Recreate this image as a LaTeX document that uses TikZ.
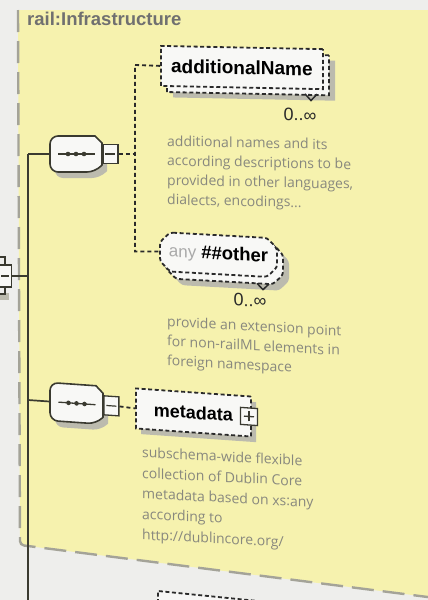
\documentclass[tikz,border=0pt]{standalone}
\usepackage{fontspec}
\setmainfont{Liberation Sans}
\newfontfamily\descfont{Open Sans}
\definecolor{bgc}{HTML}{EEEEEC}
\definecolor{yelc}{HTML}{F6F2AE}
\definecolor{borderc}{HTML}{A4A398}
\definecolor{shadowc}{HTML}{BCBBAE}
\definecolor{treec}{HTML}{3A3A30}
\definecolor{dotc}{HTML}{2A2A2A}
\definecolor{boxc}{HTML}{F8F8F6}
\definecolor{descc}{HTML}{88887E}
\definecolor{titlec}{HTML}{707070}
\definecolor{anyc}{HTML}{A9A9A9}
\tikzset{
  sk/.style n args={3}{shift={(#1,#2)},yslant=-#3,shift={(-#1,-#2)}},
  dotbox/.style={draw=dotc,line width=1.8pt,dash pattern=on 4pt off 2.6pt,fill=boxc,inner sep=0pt},
  shadowbox/.style={fill=shadowc,draw=none,inner sep=0pt},
  conn/.style={draw=dotc,line width=1.8pt,dash pattern=on 4pt off 3pt},
  treeline/.style={draw=treec,line width=1.7pt},
  frameline/.style={draw=borderc,line width=2.4pt,dash pattern=on 22pt off 9pt},
  desc/.style={font=\descfont\fontsize{14}{19.5}\selectfont,text=descc,inner sep=0pt,anchor=base west,align=left},
  elname/.style={font=\bfseries\fontsize{18}{18}\selectfont,text=black},
  occ/.style={font=\fontsize{18}{18}\selectfont,text=dotc,inner sep=0pt},
  minusbox/.style={draw=treec,line width=1.3pt,fill=boxc,minimum width=15pt,minimum height=19pt,inner sep=0pt},
  plusbox/.style={draw=treec,line width=1.3pt,fill=boxc,minimum width=17pt,minimum height=17pt,inner sep=0pt},
  compbody/.style={draw=treec,line width=1.6pt,fill=boxc},
  chev/.style={draw=dotc,line width=1.5pt},
}
\begin{document}
\begin{tikzpicture}[x=1pt,y=-1pt]
\useasboundingbox (0,0) rectangle (428,600);
\fill[bgc] (0,0) rectangle (428,600);
\fill[yelc] (18,10) -- (428,10) -- (428,597) -- (20,545) -- cycle;
\draw[frameline,rounded corners=4pt] (18,10) -- (20,545) -- (430,597.3);

\node[elname,text=titlec,anchor=base west,inner sep=0pt,font=\bfseries\fontsize{18.5}{18.5}\selectfont] (title) at (27,25) {rail:Infrastructure};

% parent element (cut at the left edge)
\fill[shadowc] (0,293) rectangle (9,300);
\draw[treeline,line width=1.4pt] (0,257) -- (5,257) -- (5,265);
\draw[treeline,line width=1.4pt] (5,287) -- (5,294) -- (0,294);
\node[minusbox,minimum width=12pt,minimum height=22pt,anchor=east] (parent) at (12,276) {};
\draw[treeline,line width=1.2pt] ([xshift=-4pt]parent.center) -- ([xshift=4pt]parent.center);

% tree lines
\coordinate (vtop) at (28,154);
\coordinate (vbot) at (28,602);
\draw[treeline] (vtop) -- (vbot);
\draw[treeline] (parent.east) -- (parent.east -| vtop);

% compositor 1
\fill[shadowc,rounded corners=8pt] (100,142) -- (55,142) -- (55,178) -- (100,178) [sharp corners] -- (107,171) -- (107,149) -- cycle;
\draw[compbody,rounded corners=8pt] (95,136) -- (50,136) -- (50,172) -- (95,172) [sharp corners] -- (102,165) -- (102,143) -- cycle;
\node[minimum width=52pt,minimum height=36pt,inner sep=0pt] (seq1) at (76,154) {};
\draw[treec,line width=1.3pt] ([xshift=-18pt]seq1.center) -- ([xshift=19pt]seq1.center);
\fill[treec] ([xshift=-8pt]seq1.center) circle (2.3pt);
\fill[treec] ([xshift=0pt]seq1.center) circle (2.3pt);
\fill[treec] ([xshift=8pt]seq1.center) circle (2.3pt);
\node[minusbox,anchor=west] (minus1) at (seq1.east) {};
\draw[treec,line width=1.2pt] ([xshift=-5pt]minus1.center) -- ([xshift=5pt]minus1.center);
\draw[treeline] (vtop) -- (seq1.west);

% group A: additionalName
\begin{scope}[sk={160}{66}{0.02},transform shape]
  \node[shadowbox,minimum width=162pt,minimum height=40pt,anchor=north west] (addnameshadow) at (173,57) {};
  \node[dotbox,minimum width=162pt,minimum height=40pt,anchor=north west] (addnameback) at (166,51) {};
  \node[dotbox,elname,minimum width=162pt,minimum height=40pt,anchor=north west,font=\bfseries\fontsize{19}{19}\selectfont] (addname) at (160,45) {additionalName};
  \draw[chev] (305,91) -- (311,97.5) -- (317,91);
  \node[occ] (occA) at (300,112) {0..∞};
  \node[desc] (descA) at (167,204.5) {additional names and its\\according descriptions to be\\provided in other languages,\\dialects, encodings...};
\end{scope}

% group B: any ##other
\begin{scope}[sk={160}{251}{0.055},transform shape]
  \fill[shadowc,rounded corners=3pt] (182,244) -- (279,244) -- (289,254) -- (289,274) -- (279,284) -- (182,284) -- (172,274) -- (172,254) -- cycle;
  \draw[dotbox,rounded corners=3pt] (176,238) -- (273,238) -- (283,248) -- (283,268) -- (273,278) -- (176,278) -- (166,268) -- (166,248) -- cycle;
  \draw[dotbox,rounded corners=3pt] (170,232) -- (267,232) -- (277,242) -- (277,261) -- (267,271) -- (170,271) -- (160,261) -- (160,242) -- cycle;
  \node[inner sep=0pt,minimum width=117pt,minimum height=39pt] (any) at (218.5,251.5) {{\fontsize{17}{17}\selectfont\textcolor{anyc}{any}}\hspace{5pt}{\bfseries\fontsize{18.5}{18.5}\selectfont\#\#other}};
  \draw[chev] (257,278) -- (263,284) -- (269,278);
  \node[occ] (occB) at (250,295.5) {0..∞};
  \node[desc] (descB) at (167,365) {provide an extension point\\for non-railML elements in\\foreign namespace};
\end{scope}

% dotted connectors of the first sequence
\coordinate (b1) at (135,65);
\coordinate (b2) at (135,251.5);
\draw[conn] (minus1.east) -- (minus1.east -| b1);
\draw[conn] (addname.west) -- (b1) -- (b2) -- (any.west);

% group C: second sequence and metadata
\begin{scope}[sk={28}{400}{0.07},transform shape]
  \fill[shadowc,rounded corners=8pt] (101,387) -- (55,387) -- (55,425) -- (101,425) [sharp corners] -- (108,418) -- (108,394) -- cycle;
  \draw[compbody,rounded corners=8pt] (96,381) -- (50,381) -- (50,419) -- (96,419) [sharp corners] -- (103,412) -- (103,388) -- cycle;
  \node[minimum width=53pt,minimum height=38pt,inner sep=0pt] (seq2) at (76.5,400) {};
  \draw[treec,line width=1.3pt] ([xshift=-18pt]seq2.center) -- ([xshift=19pt]seq2.center);
  \fill[treec] ([xshift=-8pt]seq2.center) circle (2.3pt);
  \fill[treec] ([xshift=0pt]seq2.center) circle (2.3pt);
  \fill[treec] ([xshift=8pt]seq2.center) circle (2.3pt);
  \node[minusbox,anchor=west] (minus2) at (seq2.east) {};
  \draw[treec,line width=1.2pt] ([xshift=-5pt]minus2.center) -- ([xshift=5pt]minus2.center);
  \draw[treeline] (seq2.west -| vtop) -- (seq2.west);
  \node[shadowbox,minimum width=115pt,minimum height=40pt,anchor=north west] (metashadow) at (141,386) {};
  \node[dotbox,elname,minimum width=115pt,minimum height=40pt,anchor=north west] (metadata) at (135,380) {metadata\hspace{9pt}};
  \node[plusbox] (plus) at (249,401) {};
  \draw[treec,line width=1.3pt] ([xshift=-5pt]plus.center) -- ([xshift=5pt]plus.center);
  \draw[treec,line width=1.3pt] ([yshift=-5pt]plus.center) -- ([yshift=5pt]plus.center);
  \draw[conn] (minus2.east) -- (metadata.west);
\end{scope}

\begin{scope}[sk={220}{464}{0.05},transform shape]
  \node[desc,font=\descfont\fontsize{14}{20.5}\selectfont] (descC) at (142,543.5) {subschema-wide flexible\\collection of Dublin Core\\metadata based on xs:any\\according to\\http://dublincore.org/};
\end{scope}

% next element, cut at the bottom edge
\begin{scope}[sk={157}{590}{0.1},transform shape]
  \node[dotbox,fill=white!50!bgc,anchor=north west,minimum width=110pt,minimum height=40pt] (nextel) at (157,590) {};
\end{scope}
\end{tikzpicture}
\end{document}
